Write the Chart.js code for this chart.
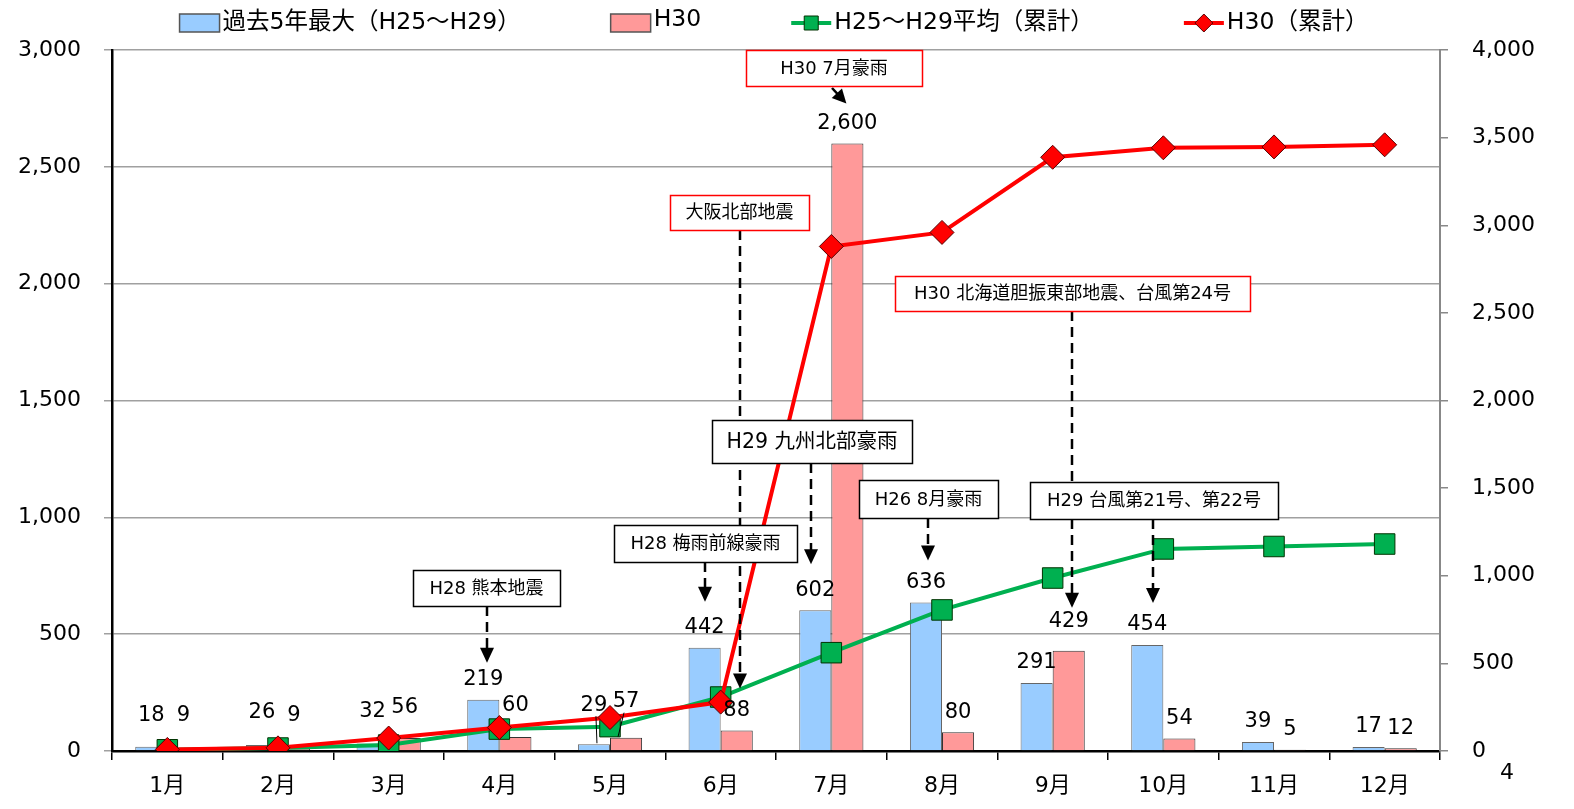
<!DOCTYPE html>
<html>
<head>
<meta charset="utf-8">
<script src="https://cdn.jsdelivr.net/npm/chart.js@4.4.1/dist/chart.umd.min.js"></script>
<style>
  body { margin: 0; background: #fff; }
  #wrap { width: 1574px; height: 809px; }
</style>
</head>
<body>
<div id="wrap"><canvas id="chart" width="1574" height="809"></canvas></div>
<script>
// data
const months = ['1月', '2月', '3月', '4月', '5月', '6月', '7月', '8月', '9月', '10月', '11月', '12月'];
const maxPast = [18, 26, 32, 219, 29, 442, 602, 636, 291, 454, 39, 17];
const h30 = [9, 9, 56, 60, 57, 88, 2600, 80, 429, 54, 5, 12];
const avgCum = [7, 17, 34, 125, 139, 308, 561, 805, 987, 1153, 1167, 1181];
const h30Cum = [9, 18, 74, 134, 191, 279, 2879, 2959, 3388, 3442, 3447, 3459];
const leftTicks = [0, 500, 1000, 1500, 2000, 2500, 3000];
const rightTicks = [0, 500, 1000, 1500, 2000, 2500, 3000, 3500, 4000];

const seriesNames = ['過去5年最大（H25～H29）', 'H30', 'H25～H29平均（累計）', 'H30（累計）'];

const FONT = "'DejaVu Sans', 'Noto Sans CJK JP', sans-serif";
const BLUE = '#99ccff', PINK = '#ff9999', GREEN = '#00b050', RED = '#ff0000';

// manual label nudges (px), key = dataset-month
const labelNudge = {
  '0-0': -11, '1-0': -13, '0-1': -12, '1-1': -13, '0-2': -12, '1-2': -10,
  '1-3': -11, '0-4': -19, '1-4': -16, '1-8': -9
};
const leaders = ['0-4', '1-4'];

// event call-outs: box = [left, top, width, height] in px
const notes = [
  { text: 'H30 7月豪雨', ds: 1, m: 6, box: [746, 50, 176, 36], color: RED, size: 18, angled: true },
  { text: '大阪北部地震', ds: 1, m: 5, box: [670, 195, 139, 35], color: RED, size: 18, lineX: 740 },
  { text: 'H30 北海道胆振東部地震、台風第24号', ds: 1, m: 8, box: [895, 276, 355, 35], color: RED, size: 18, lineX: 1072, gap: 14 },
  { text: 'H29 九州北部豪雨', ds: 0, m: 6, box: [712, 420, 200, 43], color: '#000', size: 20.5, lineX: 811, gap: 26 },
  { text: 'H26 8月豪雨', ds: 0, m: 7, box: [859, 480, 139, 38], color: '#000', size: 18, lineX: 928 },
  { text: 'H29 台風第21号、第22号', ds: 0, m: 9, box: [1030, 482, 248, 37], color: '#000', size: 18, lineX: 1153 },
  { text: 'H28 梅雨前線豪雨', ds: 0, m: 5, box: [614, 525, 183, 37], color: '#000', size: 18, lineX: 705, gap: 26 },
  { text: 'H28 熊本地震', ds: 0, m: 3, box: [413, 570, 147, 36], color: '#000', size: 18, lineX: 487, gap: 17 }
];

function labelPos(chart, ds, i) {
  const el = chart.getDatasetMeta(ds).data[i];
  return { x: el.x, y: el.y - 20 + (labelNudge[ds + '-' + i] || 0), top: el.y };
}

const extras = {
  id: 'extras',
  afterDatasetsDraw(chart) {
    const ctx = chart.ctx;
    ctx.save();

    // value labels on the bars
    ctx.font = '21px ' + FONT;
    ctx.fillStyle = '#000';
    ctx.textAlign = 'center';
    ctx.textBaseline = 'middle';
    [maxPast, h30].forEach((vals, ds) => {
      vals.forEach((v, i) => {
        const p = labelPos(chart, ds, i);
        ctx.fillText(v.toLocaleString('en-US'), p.x, p.y);
        if (leaders.includes(ds + '-' + i)) {
          ctx.strokeStyle = '#000';
          ctx.lineWidth = 1;
          ctx.beginPath();
          ctx.moveTo(p.x + (ds ? -2 : 2), p.y + 11);
          ctx.lineTo(p.x + (ds ? -8 : 3), p.top - 1);
          ctx.stroke();
        }
      });
    });

    // arrows
    ctx.fillStyle = '#000';
    ctx.strokeStyle = '#000';
    notes.forEach(n => {
      const p = labelPos(chart, n.ds, n.m);
      const b = n.box;
      if (n.angled) {
        const x0 = b[0] + 86, y0 = b[1] + b[3] + 2;
        const x1 = p.x - 1, y1 = p.y - 20;
        const ang = Math.atan2(y1 - y0, x1 - x0);
        ctx.setLineDash([]);
        ctx.lineWidth = 2.5;
        ctx.beginPath();
        ctx.moveTo(x0, y0);
        ctx.lineTo(x1 - 10 * Math.cos(ang), y1 - 10 * Math.sin(ang));
        ctx.stroke();
        ctx.beginPath();
        ctx.moveTo(x1, y1);
        ctx.lineTo(x1 - 14 * Math.cos(ang) + 7 * Math.sin(ang), y1 - 14 * Math.sin(ang) - 7 * Math.cos(ang));
        ctx.lineTo(x1 - 14 * Math.cos(ang) - 7 * Math.sin(ang), y1 - 14 * Math.sin(ang) + 7 * Math.cos(ang));
        ctx.closePath();
        ctx.fill();
        return;
      }
      const x = n.lineX;
      const tip = p.y - (n.gap || 22);
      ctx.setLineDash([10, 6]);
      ctx.lineWidth = 2.5;
      ctx.beginPath();
      ctx.moveTo(x, b[1] + b[3]);
      ctx.lineTo(x, tip - 14);
      ctx.stroke();
      ctx.setLineDash([]);
      ctx.beginPath();
      ctx.moveTo(x - 7, tip - 15);
      ctx.lineTo(x + 7, tip - 15);
      ctx.lineTo(x, tip);
      ctx.closePath();
      ctx.fill();
    });

    // call-out boxes on top
    ctx.setLineDash([]);
    notes.forEach(n => {
      const b = n.box;
      ctx.fillStyle = '#fff';
      ctx.fillRect(b[0], b[1], b[2], b[3]);
      ctx.strokeStyle = n.color;
      ctx.lineWidth = 1.5;
      ctx.strokeRect(b[0] + 0.5, b[1] + 0.5, b[2], b[3]);
      ctx.fillStyle = '#000';
      ctx.font = n.size + 'px ' + FONT;
      ctx.textAlign = 'center';
      ctx.textBaseline = 'middle';
      ctx.fillText(n.text, b[0] + b[2] / 2, b[1] + b[3] / 2 + 1);
    });

    // legend
    ctx.font = '23.5px ' + FONT;
    ctx.textAlign = 'left';
    ctx.textBaseline = 'middle';
    const gap = 90, sym = 40;
    const widths = seriesNames.map(t => sym + 3 + ctx.measureText(t).width);
    let x = 774 - (widths.reduce((a, c) => a + c, 0) + gap * 3) / 2;
    const ly = 23;
    seriesNames.forEach((t, i) => {
      if (i < 2) {
        ctx.fillStyle = i ? PINK : BLUE;
        ctx.fillRect(x, ly - 9, sym, 18);
        ctx.strokeStyle = '#555';
        ctx.lineWidth = 1.5;
        ctx.strokeRect(x, ly - 9, sym, 18);
      } else {
        ctx.strokeStyle = i === 2 ? GREEN : RED;
        ctx.lineWidth = 4;
        ctx.beginPath();
        ctx.moveTo(x, ly);
        ctx.lineTo(x + sym, ly);
        ctx.stroke();
        ctx.fillStyle = i === 2 ? GREEN : RED;
        ctx.strokeStyle = i === 2 ? '#003300' : '#550000';
        ctx.lineWidth = 1;
        ctx.beginPath();
        if (i === 2) {
          ctx.rect(x + sym / 2 - 7, ly - 7, 14, 14);
        } else {
          ctx.moveTo(x + sym / 2, ly - 9);
          ctx.lineTo(x + sym / 2 + 9, ly);
          ctx.lineTo(x + sym / 2, ly + 9);
          ctx.lineTo(x + sym / 2 - 9, ly);
          ctx.closePath();
        }
        ctx.fill();
        ctx.stroke();
      }
      ctx.fillStyle = '#000';
      ctx.fillText(t, x + sym + 3, ly + (i === 1 ? -3 : 0));
      x += widths[i] + gap;
    });

    // stray figure at bottom right
    ctx.font = '22px ' + FONT;
    ctx.fillText('4', 1500, 773);
    ctx.restore();
  }
};

const tickFont = { family: FONT, size: 22 };

new Chart(document.getElementById('chart'), {
  type: 'bar',
  data: {
    labels: months,
    datasets: [
      { type: 'bar', label: seriesNames[0], data: maxPast, yAxisID: 'y', order: 3,
        backgroundColor: BLUE, borderColor: '#666', borderWidth: 1,
        categoryPercentage: 0.58, barPercentage: 1 },
      { type: 'bar', label: seriesNames[1], data: h30, yAxisID: 'y', order: 3,
        backgroundColor: PINK, borderColor: '#333', borderWidth: 1,
        categoryPercentage: 0.58, barPercentage: 1 },
      { type: 'line', label: seriesNames[2], data: avgCum, yAxisID: 'y1', order: 2,
        borderColor: GREEN, borderWidth: 4, tension: 0,
        pointStyle: 'rect', pointRadius: 14.5, pointBackgroundColor: GREEN,
        pointBorderColor: '#003300', pointBorderWidth: 1 },
      { type: 'line', label: seriesNames[3], data: h30Cum, yAxisID: 'y1', order: 1,
        borderColor: RED, borderWidth: 4, tension: 0,
        pointStyle: 'rectRot', pointRadius: 12, pointBackgroundColor: RED,
        pointBorderColor: '#550000', pointBorderWidth: 1 }
    ]
  },
  options: {
    responsive: false,
    animation: false,
    locale: 'en-US',
    layout: { padding: { top: 50, left: 0, right: 0, bottom: 0 } },
    plugins: { legend: { display: false }, tooltip: { enabled: false } },
    scales: {
      x: {
        offset: true,
        grid: { drawOnChartArea: false, offset: true, tickLength: 9, color: '#000', lineWidth: 1.5 },
        border: { color: '#000', width: 2.5 },
        ticks: { font: tickFont, color: '#000', padding: 13 },
        afterFit(s) { s.height = 58; }
      },
      y: {
        position: 'left',
        min: leftTicks[0], max: leftTicks[leftTicks.length - 1],
        afterBuildTicks(s) { s.ticks = leftTicks.map(v => ({ value: v })); },
        ticks: { font: tickFont, color: '#000', padding: 23 },
        grid: { color: '#a0a0a0', lineWidth: 1.5, tickLength: 8 },
        border: { color: '#000', width: 2.5 },
        afterFit(s) { s.width = 112; }
      },
      y1: {
        position: 'right',
        min: rightTicks[0], max: rightTicks[rightTicks.length - 1],
        afterBuildTicks(s) { s.ticks = rightTicks.map(v => ({ value: v })); },
        ticks: { font: tickFont, color: '#000', padding: 24 },
        grid: { drawOnChartArea: false, color: '#888', lineWidth: 1.5, tickLength: 8 },
        border: { color: '#888', width: 2 },
        afterFit(s) { s.width = 134; }
      }
    }
  },
  plugins: [extras]
});
</script>
</body>
</html>
